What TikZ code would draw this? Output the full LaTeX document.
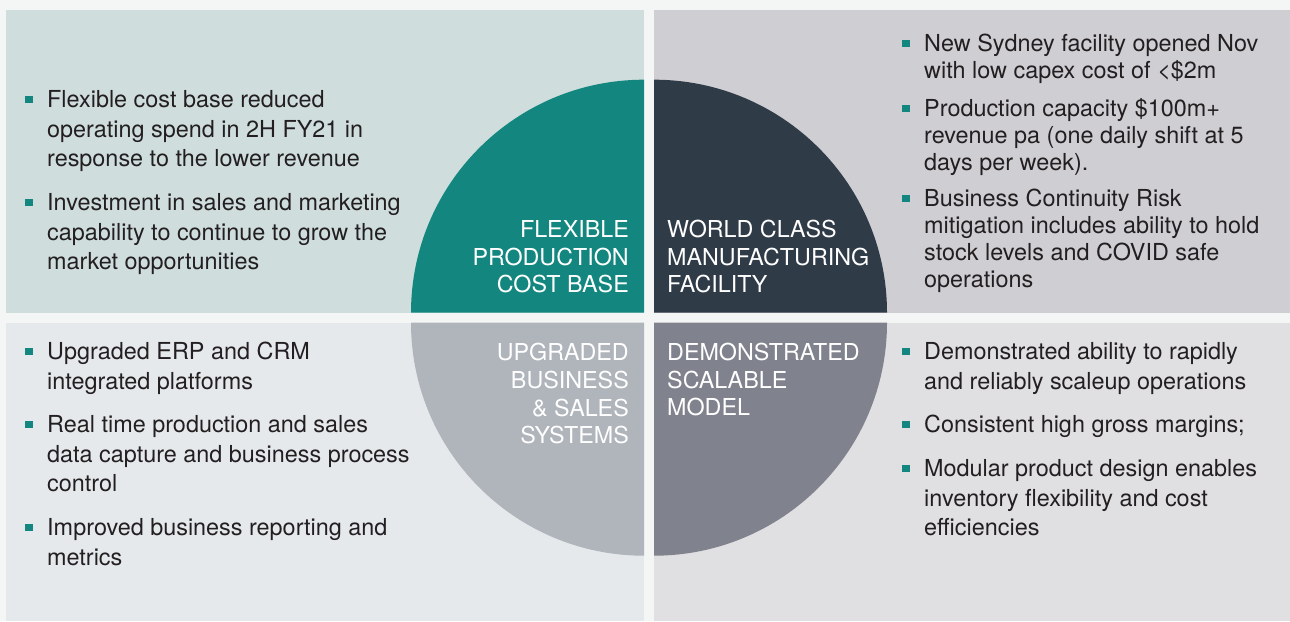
\documentclass[tikz,border=0pt]{standalone}
\usepackage{fontspec}
\setmainfont{TeX Gyre Heros}
\usepackage{tikz}
\usetikzlibrary{calc}

\definecolor{bgpage}{HTML}{F4F6F5}
\definecolor{tlpanel}{HTML}{CFDEDD}
\definecolor{trpanel}{HTML}{CFCED3}
\definecolor{blpanel}{HTML}{E6E9EC}
\definecolor{brpanel}{HTML}{E0DFE2}
\definecolor{tealq}{HTML}{13877F}
\definecolor{slateq}{HTML}{303B48}
\definecolor{lgreyq}{HTML}{B0B4BB}
\definecolor{dgreyq}{HTML}{80828D}
\definecolor{ink}{HTML}{231F20}

\begin{document}
\begin{tikzpicture}[
        x=1pt, y=1pt,
        item/.style={anchor=base west, inner sep=0pt, align=left, text=ink,
                     font=\fontsize{23.4}{29.5}\selectfont},
        itemtight/.style={item, font=\fontsize{23.4}{26.7}\selectfont},
        quart/.style={inner sep=0pt, text=white,
                      font=\fontsize{23.3}{27.8}\selectfont},
        sq/.style={fill=tealq, minimum size=7.6pt, inner sep=0pt},
    ]
    \fill[bgpage] (0,0) rectangle (1290,621);
    \useasboundingbox (0,0) rectangle (1290,621);

    \fill[tlpanel] (6,308.3) rectangle (644,611);
    \fill[trpanel] (654,308.3) rectangle (1290,611);
    \fill[blpanel] (6,0) rectangle (644,298.3);
    \fill[brpanel] (654,0) rectangle (1290,298.3);

    \fill[tealq] (644,308.3) -- ++(-233,0)
        arc[start angle=180, end angle=90, radius=233pt] -- cycle;
    \fill[slateq] (654,308.3) -- ++(0,233)
        arc[start angle=90, end angle=0, radius=233pt] -- cycle;
    \fill[lgreyq] (644,298.3) -- ++(-233,0)
        arc[start angle=180, end angle=270, radius=233pt] -- cycle;
    \fill[dgreyq] (654,298.3) -- ++(233,0)
        arc[start angle=0, end angle=-90, radius=233pt] -- cycle;

    % labels sit on the baseline of their last line
    \node[quart, anchor=base east, align=right] (flex) at (629,328)
        {FLEXIBLE\\PRODUCTION\\COST BASE};
    \node[quart, anchor=base west, align=left] (world) at (667,328)
        {WORLD CLASS\\MANUFACTURING\\FACILITY};
    \node[quart, anchor=base east, align=right] (upgr) at (629,177)
        {UPGRADED\\BUSINESS\\\& SALES\\SYSTEMS};
    \node[quart, anchor=base west, align=left] (demo) at (667,205)
        {DEMONSTRATED\\SCALABLE\\MODEL};

    % top left
    \node[item] (a1) at (47,454) {Flexible cost base reduced\\operating spend in 2H FY21 in\\response to the lower revenue};
    \node[item] (a2) at (47,351) {Investment in sales and marketing\\capability to continue to grow the\\market opportunities};

    % top right
    \node[itemtight] (b1) at (924,542.3) {New Sydney facility opened Nov\\with low capex cost of <\$2m};
    \node[itemtight] (b2) at (924,450.6) {Production capacity \$100m+\\revenue pa (one daily shift at 5\\days per week).};
    \node[itemtight] (b3) at (924,333.9) {Business Continuity Risk\\mitigation includes ability to hold\\stock levels and COVID safe\\operations};

    % bottom left
    \node[item] (c1) at (47,231.5) {Upgraded ERP and CRM\\integrated platforms};
    \node[item] (c2) at (47,129) {Real time production and sales\\data capture and business process\\control};
    \node[item] (c3) at (47,55.5) {Improved business reporting and\\metrics};

    % bottom right
    \node[item] (d1) at (924,231.5) {Demonstrated ability to rapidly\\and reliably scaleup operations};
    \node[item] (d2) at (924,188) {Consistent high gross margins;};
    \node[item] (d3) at (924,85) {Modular product design enables\\inventory flexibility and cost\\efficiencies};

    \foreach \n/\up in {a1/67.5, a2/67.5, b1/35.2, b2/61.9, b3/88.6,
                        c1/38, c2/67.5, c3/38, d1/38, d2/8.5, d3/67.5}
        \node[sq] (sq-\n) at ([shift={(-18,\up)}]\n.base west) {};

    \end{tikzpicture}
\end{document}
